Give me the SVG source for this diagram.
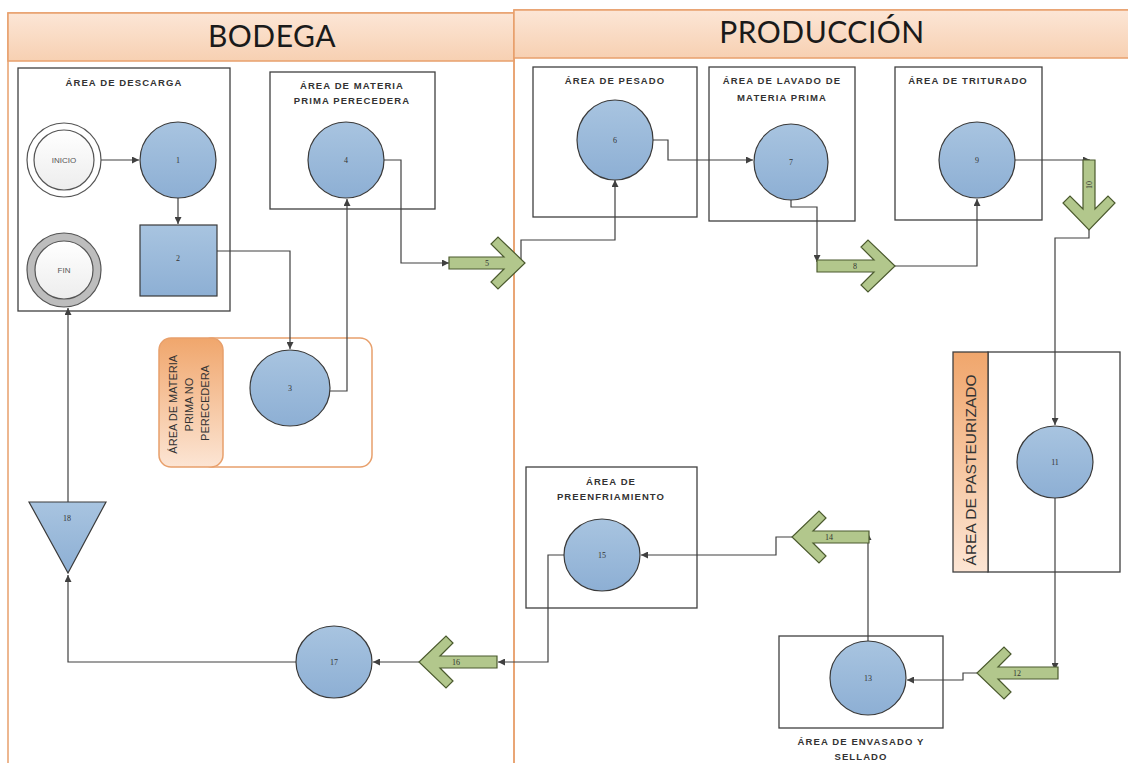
<svg xmlns="http://www.w3.org/2000/svg" width="1128" height="763" viewBox="0 0 1128 763">
  <defs>
    <linearGradient id="hdr" x1="0" y1="0" x2="0" y2="1">
      <stop offset="0" stop-color="#FCE6D6"/>
      <stop offset="1" stop-color="#F7D0B2"/>
    </linearGradient>
    <linearGradient id="band" x1="0" y1="0" x2="0" y2="1">
      <stop offset="0" stop-color="#F0A66C"/>
      <stop offset="1" stop-color="#FCE5D4"/>
    </linearGradient>
    <linearGradient id="blue" x1="0" y1="0" x2="0" y2="1">
      <stop offset="0" stop-color="#A8C4E0"/>
      <stop offset="1" stop-color="#8DAFD4"/>
    </linearGradient>
    <linearGradient id="pale" x1="0" y1="0" x2="0" y2="1">
      <stop offset="0" stop-color="#FFFFFF"/>
      <stop offset="1" stop-color="#EDEDED"/>
    </linearGradient>
    <marker id="ah" viewBox="0 0 10 10" refX="10" refY="5" markerWidth="7" markerHeight="7" markerUnits="userSpaceOnUse" orient="auto">
      <path d="M0,0 L10,5 L0,10 Z" fill="#404040"/>
    </marker>
  </defs>
  <style>
    .lane { fill: none; stroke: #E8A06C; stroke-width: 1.5; }
    .hdr { fill: url(#hdr); stroke: #E8A06C; stroke-width: 1.5; }
    .title { font-family: "Lato", "Open Sans", sans-serif; font-size: 30px; fill: #1a1a1a; text-anchor: middle; letter-spacing: 0.5px; }
    .box { fill: #ffffff; stroke: #404040; stroke-width: 1.3; }
    .alabel { font-family: "Liberation Sans", Arial, sans-serif; font-weight: bold; font-size: 9.5px; fill: #333; text-anchor: middle; letter-spacing: 1.1px; }
    .proc { fill: url(#blue); stroke: #3A3A3A; stroke-width: 1.2; }
    .num { font-family: "Liberation Serif", serif; font-size: 8px; fill: #333; text-anchor: middle; }
    .term { font-family: "Liberation Sans", Arial, sans-serif; font-size: 8px; fill: #555; text-anchor: middle; }
    .flow { fill: #B2C78C; stroke: #4B5A2E; stroke-width: 1.2; }
    .conn { fill: none; stroke: #404040; stroke-width: 1.2; marker-end: url(#ah); }
    .vlabel { font-family: "Liberation Sans", Arial, sans-serif; fill: #333; text-anchor: middle; }
  </style>

  <rect width="1128" height="763" fill="#ffffff"/>

  <!-- swimlanes -->
  <g id="lane-bodega">
    <rect class="lane" x="8" y="13" width="506" height="760"/>
    <rect class="hdr" x="8" y="13" width="506" height="48"/>
    <text class="title" x="272" y="47">BODEGA</text>
  </g>
  <g id="lane-produccion">
    <rect class="lane" x="514" y="10" width="620" height="763"/>
    <rect class="hdr" x="514" y="10" width="620" height="48"/>
    <text class="title" x="822" y="43">PRODUCCIÓN</text>
  </g>

  <!-- area containers -->
  <g id="area-descarga">
    <rect class="box" x="18" y="68" width="212" height="243"/>
    <text class="alabel" x="124" y="86">ÁREA DE DESCARGA</text>
  </g>
  <g id="area-perecedera">
    <rect class="box" x="270" y="72" width="165" height="137"/>
    <text class="alabel" x="352" y="89">ÁREA DE MATERIA</text>
    <text class="alabel" x="352" y="104">PRIMA PERECEDERA</text>
  </g>
  <g id="area-no-perecedera">
    <rect x="200" y="338" width="172" height="129" rx="12" fill="#ffffff" stroke="#E8A06C" stroke-width="1.5"/>
    <rect x="159" y="338" width="64" height="129" rx="12" fill="url(#band)" stroke="#E8A06C" stroke-width="1.5"/>
    <text class="vlabel" font-size="11" transform="translate(191,403) rotate(-90)">
      <tspan x="0" y="-14">ÁREA DE MATERIA</tspan>
      <tspan x="0" y="2">PRIMA NO</tspan>
      <tspan x="0" y="18">PERECEDERA</tspan>
    </text>
  </g>
  <g id="area-pesado">
    <rect class="box" x="533" y="67" width="164" height="150"/>
    <text class="alabel" x="615" y="84">ÁREA DE PESADO</text>
  </g>
  <g id="area-lavado">
    <rect class="box" x="709" y="67" width="146" height="154"/>
    <text class="alabel" x="782" y="84">ÁREA DE LAVADO DE</text>
    <text class="alabel" x="782" y="101">MATERIA PRIMA</text>
  </g>
  <g id="area-triturado">
    <rect class="box" x="895" y="67" width="147" height="153"/>
    <text class="alabel" x="968" y="84">ÁREA DE TRITURADO</text>
  </g>
  <g id="area-pasteurizado">
    <rect class="box" x="988" y="352" width="132" height="220"/>
    <rect x="953" y="352" width="35" height="220" fill="url(#band)" stroke="#404040" stroke-width="1.3"/>
    <text class="vlabel" font-size="15.5" transform="translate(976,470) rotate(-90)">ÁREA DE PASTEURIZADO</text>
  </g>
  <g id="area-preenfriamiento">
    <rect class="box" x="526" y="467" width="171" height="141"/>
    <text class="alabel" x="611" y="485">ÁREA DE</text>
    <text class="alabel" x="611" y="500">PREENFRIAMIENTO</text>
  </g>
  <g id="area-envasado">
    <rect class="box" x="779" y="636" width="164" height="92"/>
    <text class="alabel" x="861" y="745">ÁREA DE ENVASADO Y</text>
    <text class="alabel" x="861" y="760">SELLADO</text>
  </g>

  <!-- connectors -->
  <g id="connectors">
    <path class="conn" d="M100,160 H139"/>
    <path class="conn" d="M178,198 V224"/>
    <path class="conn" d="M217,251 H290 V349"/>
    <path class="conn" d="M330,391 H347 V199"/>
    <path class="conn" d="M384,160 H401 V263 H449"/>
    <path class="conn" d="M521,262 V240 H615 V180"/>
    <path class="conn" d="M653,140 H668 V160 H753"/>
    <path class="conn" d="M791,200 V207 H817 V262"/>
    <path class="conn" d="M895,266 H977 V199"/>
    <path class="conn" d="M1015,160 H1090"/>
    <path class="conn" d="M1089,230 V238 H1055 V425"/>
    <path class="conn" d="M1055,498 V670"/>
    <path class="conn" d="M977,673 H963 V680 H907"/>
    <path class="conn" d="M868,641 V533"/>
    <path class="conn" d="M792,537 H776 V555 H641"/>
    <path class="conn" d="M564,555 H548 V662 H498"/>
    <path class="conn" d="M419,662 H373"/>
    <path class="conn" d="M296,662 H68 V575"/>
    <path class="conn" d="M68,502 V308"/>
  </g>

  <!-- start / end -->
  <g id="node-inicio">
    <circle cx="64" cy="160" r="37" fill="#ffffff" stroke="#555" stroke-width="1.2"/>
    <circle cx="64" cy="160" r="30" fill="url(#pale)" stroke="#555" stroke-width="1.2"/>
    <text class="term" x="64" y="163">INICIO</text>
  </g>
  <g id="node-fin">
    <circle cx="64" cy="270" r="37" fill="#BDBDBD" stroke="#555" stroke-width="1.2"/>
    <circle cx="64" cy="270" r="29" fill="url(#pale)" stroke="#555" stroke-width="1.2"/>
    <text class="term" x="64" y="273">FIN</text>
  </g>

  <!-- process steps -->
  <g id="node-1">
    <circle class="proc" cx="178" cy="160" r="38"/>
    <text class="num" x="178" y="163">1</text>
  </g>
  <g id="node-2">
    <rect class="proc" x="140" y="225" width="77" height="71"/>
    <text class="num" x="178" y="261">2</text>
  </g>
  <g id="node-3">
    <ellipse class="proc" cx="290" cy="388" rx="40" ry="38"/>
    <text class="num" x="290" y="391">3</text>
  </g>
  <g id="node-4">
    <circle class="proc" cx="346" cy="160" r="38"/>
    <text class="num" x="346" y="163">4</text>
  </g>
  <g id="node-6">
    <ellipse class="proc" cx="615" cy="140" rx="38" ry="40"/>
    <text class="num" x="615" y="143">6</text>
  </g>
  <g id="node-7">
    <ellipse class="proc" cx="791" cy="162" rx="37" ry="38"/>
    <text class="num" x="791" y="165">7</text>
  </g>
  <g id="node-9">
    <circle class="proc" cx="977" cy="160" r="38"/>
    <text class="num" x="977" y="163">9</text>
  </g>
  <g id="node-11">
    <ellipse class="proc" cx="1055" cy="462" rx="38" ry="36"/>
    <text class="num" x="1055" y="465">11</text>
  </g>
  <g id="node-13">
    <ellipse class="proc" cx="868" cy="678" rx="38" ry="37"/>
    <text class="num" x="868" y="681">13</text>
  </g>
  <g id="node-15">
    <ellipse class="proc" cx="602" cy="555" rx="38" ry="36"/>
    <text class="num" x="602" y="558">15</text>
  </g>
  <g id="node-17">
    <ellipse class="proc" cx="334" cy="662" rx="38" ry="36"/>
    <text class="num" x="334" y="665">17</text>
  </g>
  <g id="node-18">
    <path class="proc" d="M29,502 H106 L68,573 Z"/>
    <text class="num" x="67" y="521">18</text>
  </g>

  <!-- transport arrows -->
  <g id="node-5">
    <path class="flow" transform="translate(525,263)" d="M-76,-6 H-21 L-34,-19 L-27,-26 L0,0 L-27,26 L-34,19 L-21,6 H-76 Z"/>
    <text class="num" x="487" y="266">5</text>
  </g>
  <g id="node-8">
    <path class="flow" transform="translate(895,266)" d="M-78,-6 H-21 L-34,-19 L-27,-26 L0,0 L-27,26 L-34,19 L-21,6 H-78 Z"/>
    <text class="num" x="855" y="269">8</text>
  </g>
  <g id="node-10">
    <path class="flow" transform="translate(1089,230) rotate(90)" d="M-70,-6 H-21 L-34,-19 L-27,-26 L0,0 L-27,26 L-34,19 L-21,6 H-70 Z"/>
    <text class="num" transform="translate(1092,185) rotate(-90)">10</text>
  </g>
  <g id="node-12">
    <path class="flow" transform="translate(977,673) rotate(180)" d="M-81,-6 H-21 L-34,-19 L-27,-26 L0,0 L-27,26 L-34,19 L-21,6 H-81 Z"/>
    <text class="num" x="1017" y="676">12</text>
  </g>
  <g id="node-14">
    <path class="flow" transform="translate(792,537) rotate(180)" d="M-77,-6 H-21 L-34,-19 L-27,-26 L0,0 L-27,26 L-34,19 L-21,6 H-77 Z"/>
    <text class="num" x="829" y="540">14</text>
  </g>
  <g id="node-16">
    <path class="flow" transform="translate(419,662) rotate(180)" d="M-78,-6 H-21 L-34,-19 L-27,-26 L0,0 L-27,26 L-34,19 L-21,6 H-78 Z"/>
    <text class="num" x="456" y="665">16</text>
  </g>
</svg>
